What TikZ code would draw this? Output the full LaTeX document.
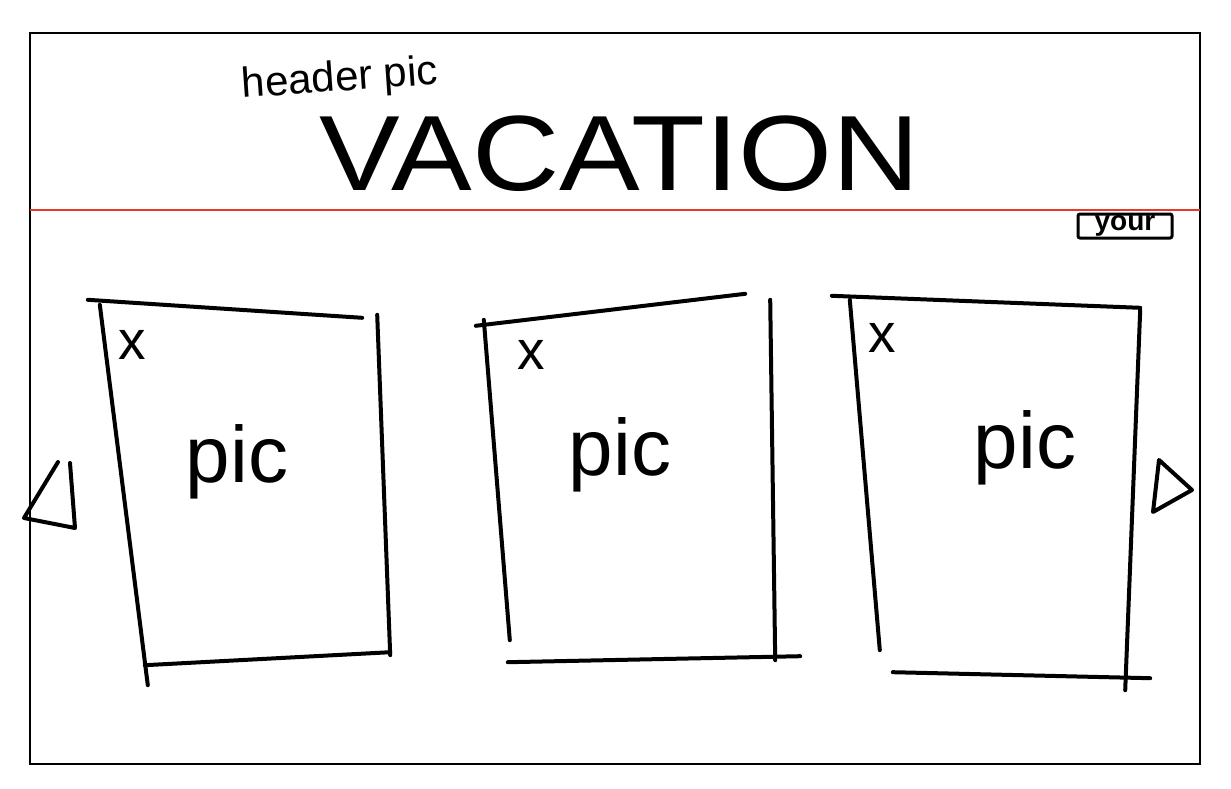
\documentclass[tikz,border=0pt]{standalone}
\usepackage{fontspec}
\setmainfont{Liberation Sans}
\definecolor{headerred}{RGB}{228,58,40}
\tikzset{
  stroke/.style={line width=4pt, line cap=round, line join=round},
  picbox/.style={minimum width=270pt, minimum height=350pt, inner sep=0pt},
  closemark/.style={font=\fontsize{55}{55}\selectfont, inner sep=0pt, anchor=north west},
  pictext/.style={font=\fontsize{80}{80}\selectfont, inner sep=0pt}
}
\begin{document}
\begin{tikzpicture}[x=1pt,y=-1pt]
\useasboundingbox (0,0) rectangle (1231,789);
\draw[line width=1.5pt] (30,33) rectangle (1200,764);
\coordinate (rulel) at (30,210);
\coordinate (ruler) at (1200,210);
\draw[headerred, line width=2.2pt] (rulel) -- (ruler);
\node[font=\fontsize{42}{42}\selectfont, inner sep=0pt, rotate=4] (subtitle) at (340,80) {header pic};
\node[font=\fontsize{107}{107}\selectfont, inner sep=0pt, xscale=1.13, anchor=base] (title) at (620,190) {VACATION};
\node[draw, line width=3pt, rounded corners=2pt, minimum width=94pt, minimum height=24pt, inner sep=0pt, font=\bfseries\fontsize{28}{28}\selectfont] (account) at (1125,226) {your};

\node[picbox] (box1) at (250,485) {};
\node[picbox, minimum height=340pt] (box2) at (637,480) {};
\node[picbox, minimum height=360pt] (box3) at (1000,485) {};

\draw[stroke] ([shift={(-27,-10)}]box1.north west) -- ([shift={(-23,8)}]box1.north east);
\draw[stroke] ([shift={(-15,-5)}]box1.north west) -- ([shift={(33,25)}]box1.south west);
\draw[stroke] ([shift={(-8,5)}]box1.north east) -- ([shift={(5,-5)}]box1.south east);
\draw[stroke] ([shift={(30,5)}]box1.south west) -- ([shift={(5,-8)}]box1.south east);

\draw[stroke] ([shift={(-26,16)}]box2.north west) -- ([shift={(-27,-16)}]box2.north east);
\draw[stroke] ([shift={(-18,10)}]box2.north west) -- ([shift={(8,-10)}]box2.south west);
\draw[stroke] ([shift={(-2,-10)}]box2.north east) -- ([shift={(3,10)}]box2.south east);
\draw[stroke] ([shift={(6,12)}]box2.south west) -- ([shift={(28,6)}]box2.south east);

\draw[stroke] ([shift={(-33,-9)}]box3.north west) -- ([shift={(5,3)}]box3.north east);
\draw[stroke] ([shift={(-15,-5)}]box3.north west) -- ([shift={(15,-15)}]box3.south west);
\draw[stroke] ([shift={(5,5)}]box3.north east) -- ([shift={(-10,25)}]box3.south east);
\draw[stroke] ([shift={(28,7)}]box3.south west) -- ([shift={(15,13)}]box3.south east);

\node[closemark] (close1) at ([shift={(3,20)}]box1.north west) {x};
\node[closemark] (close2) at ([shift={(15,30)}]box2.north west) {x};
\node[closemark] (close3) at ([shift={(3,18)}]box3.north west) {x};

\node[pictext] (pic1) at ([shift={(-13,-23)}]box1.center) {pic};
\node[pictext] (pic2) at ([shift={(-17,-25)}]box2.center) {pic};
\node[pictext] (pic3) at ([shift={(25,-37)}]box3.center) {pic};

\draw[stroke] (58,462) -- (24,518) -- (75,528) -- (70,463);
\draw[stroke] (1159,460) -- (1192,490) -- (1153,512) -- cycle;
\end{tikzpicture}
\end{document}
